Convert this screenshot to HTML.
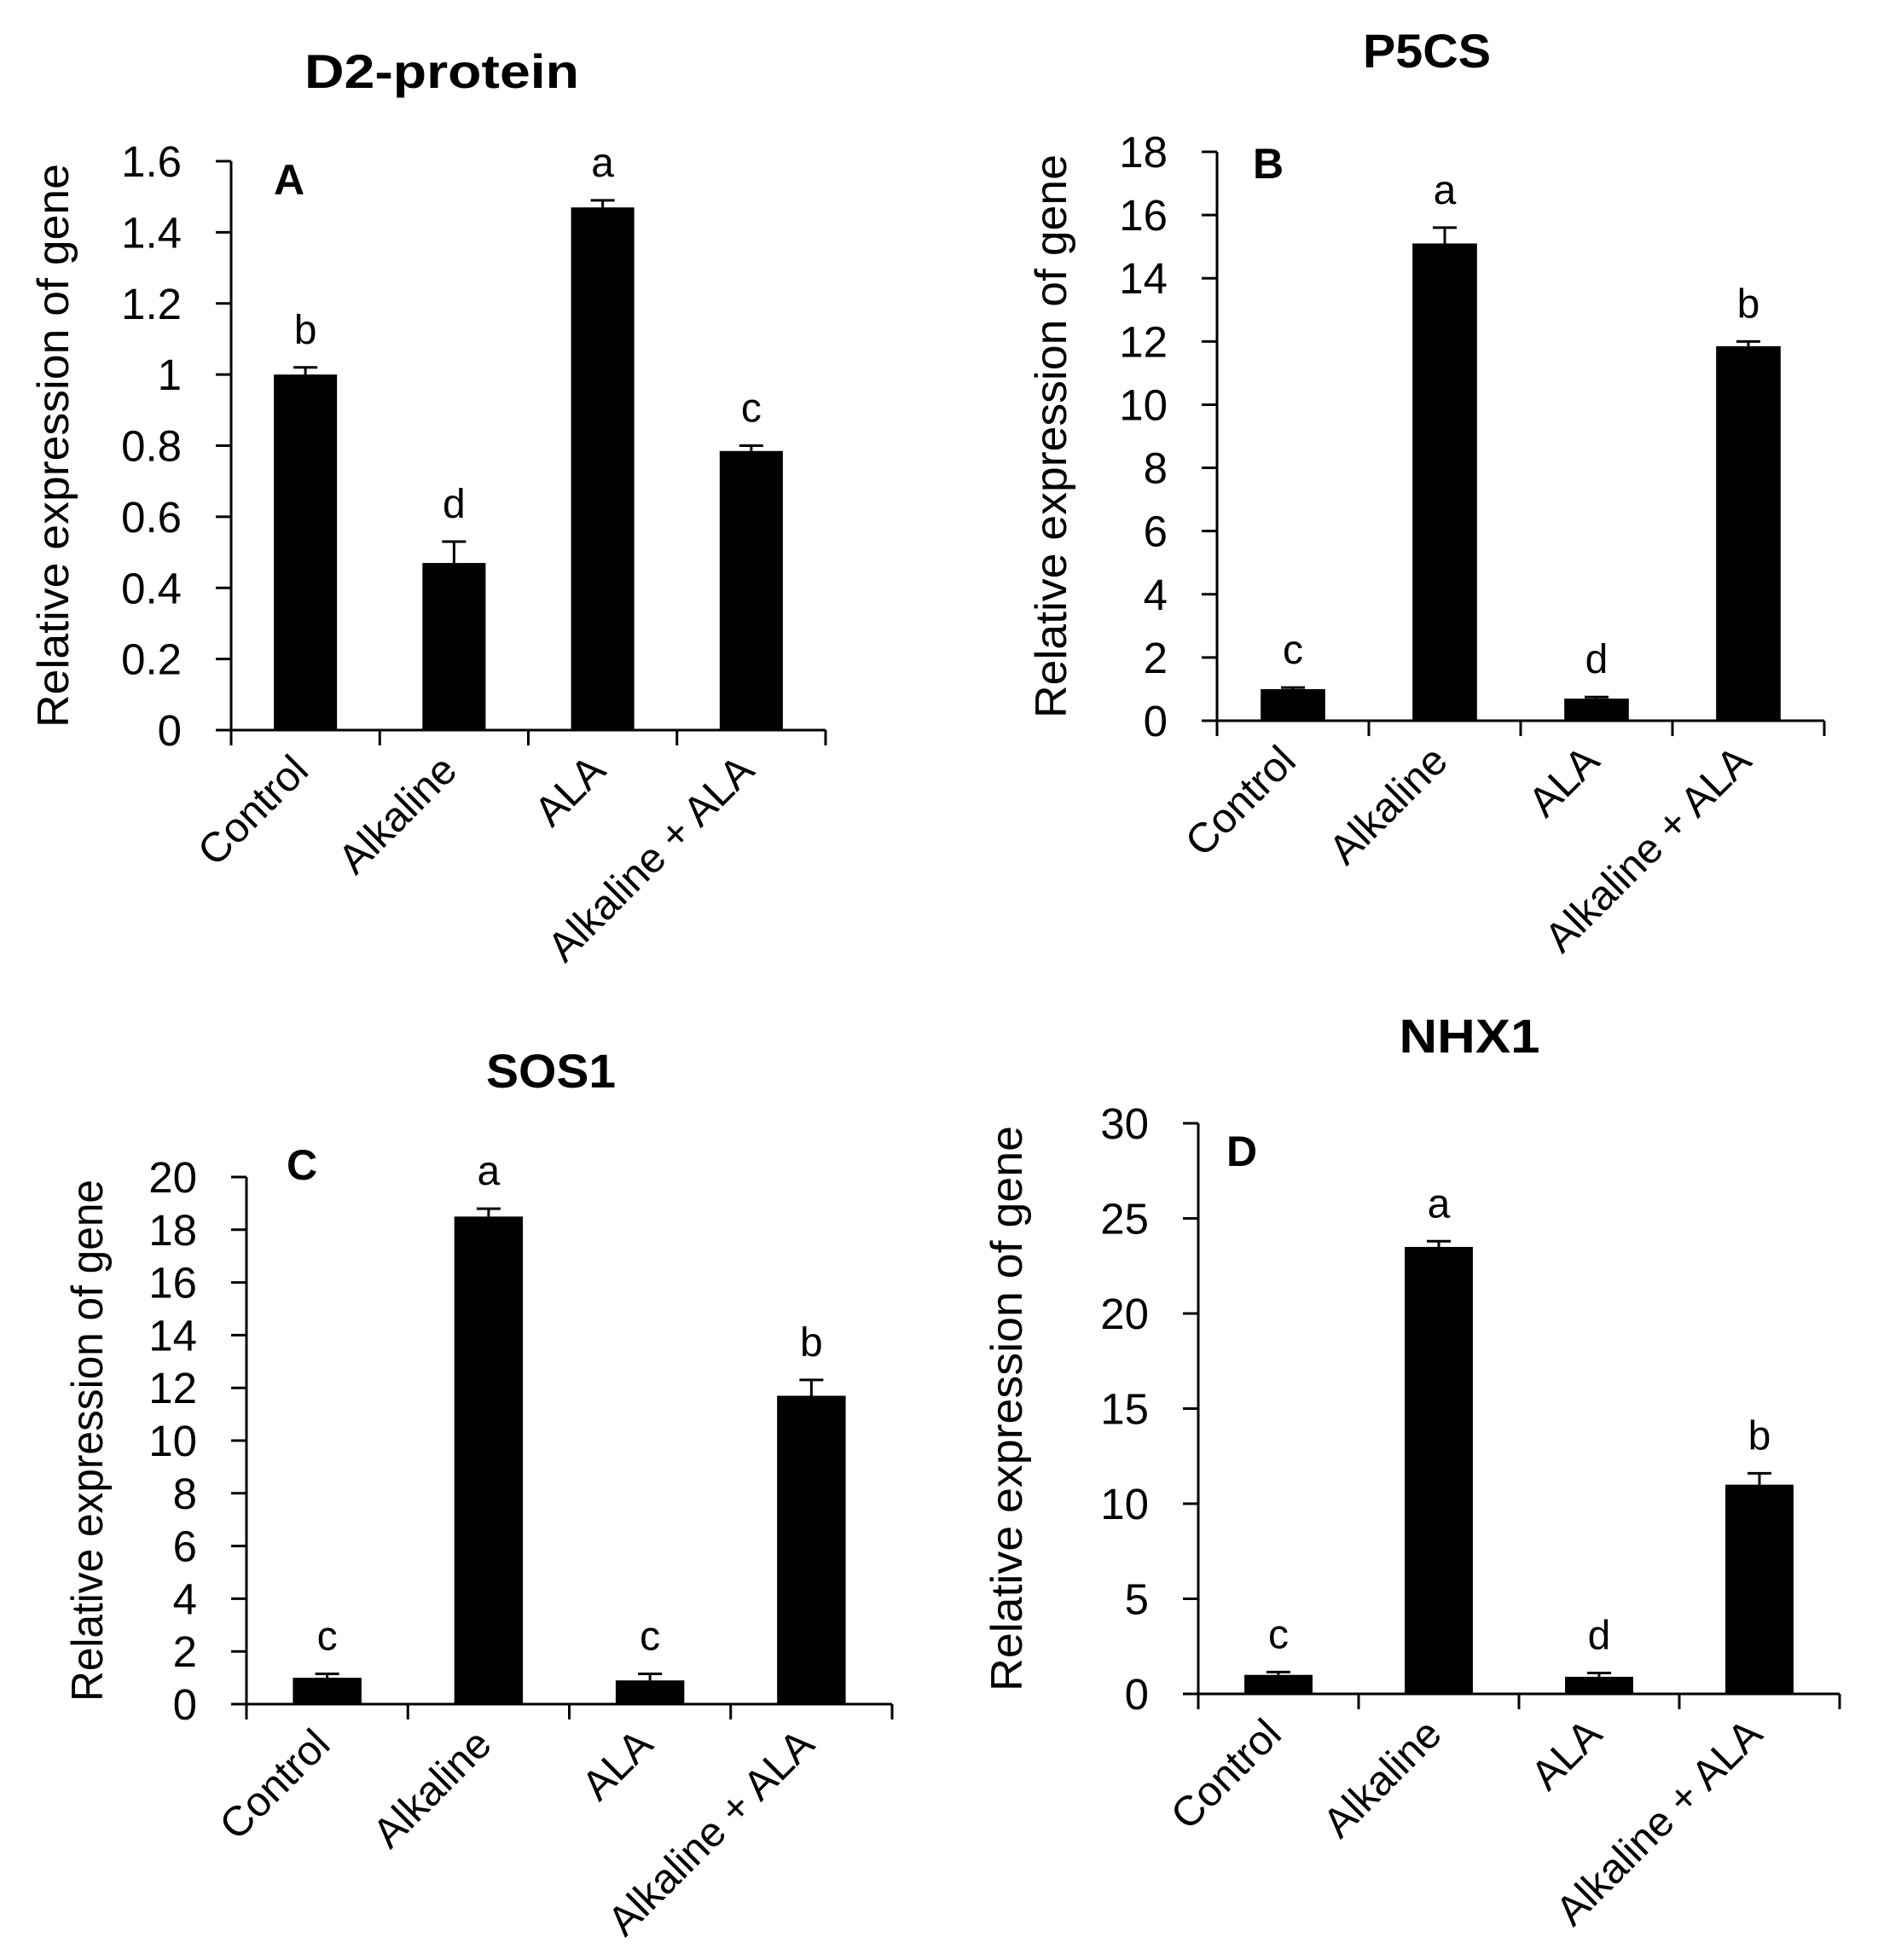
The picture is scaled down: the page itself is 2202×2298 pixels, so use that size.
<!DOCTYPE html>
<html><head><meta charset="utf-8"><style>
html,body{margin:0;padding:0;background:#fff;}
svg{display:block;font-family:"Liberation Sans",sans-serif;}
</style></head><body>
<svg id="fig" width="2202" height="2298" viewBox="0 0 2202 2298"></svg>
<script>
const categories = ["Control", "Alkaline", "ALA", "Alkaline + ALA"];
const d2Values = [1.0, 0.47, 1.47, 0.785];
const d2Errors = [0.02, 0.06, 0.02, 0.015];
const d2Letters = ["b", "d", "a", "c"];
const d2Ticks = ["0", "0.2", "0.4", "0.6", "0.8", "1", "1.2", "1.4", "1.6"];
const p5Values = [1.0, 15.1, 0.7, 11.85];
const p5Errors = [0.05, 0.5, 0.05, 0.15];
const p5Letters = ["c", "a", "d", "b"];
const p5Ticks = ["0", "2", "4", "6", "8", "10", "12", "14", "16", "18"];
const sosValues = [1.0, 18.5, 0.9, 11.7];
const sosErrors = [0.15, 0.3, 0.25, 0.6];
const sosLetters = ["c", "a", "c", "b"];
const sosTicks = ["0", "2", "4", "6", "8", "10", "12", "14", "16", "18", "20"];
const nhxValues = [1.0, 23.5, 0.9, 11.0];
const nhxErrors = [0.15, 0.3, 0.2, 0.6];
const nhxLetters = ["c", "a", "d", "b"];
const nhxTicks = ["0", "5", "10", "15", "20", "25", "30"];

const NS = "http://www.w3.org/2000/svg";
const svg = document.getElementById("fig");
function mk(tag, attrs, parent, text) {
  const e = document.createElementNS(NS, tag);
  for (const k in attrs) e.setAttribute(k, attrs[k]);
  if (text !== undefined) e.textContent = text;
  parent.appendChild(e);
  return e;
}

function panel(cfg, values, errors, letters, ticks) {
  const g = mk("g", {}, svg);
  
  
  const maxV = parseFloat(ticks[ticks.length - 1]);
  const y = v => cfg.y0 - (v / maxV) * (cfg.y0 - cfg.yTop);
  const band = (cfg.xEnd - cfg.x0) / categories.length;
  const cx = i => cfg.x0 + band * (i + 0.5);
  const bw = band * 0.425;

  const t = mk("text", {x: cfg.titleX, y: cfg.titleY, "text-anchor": "middle", "font-size": 56, "font-weight": "bold", textLength: cfg.titleLen, lengthAdjust: "spacingAndGlyphs"}, g, cfg.title);
  
  

  const pl = mk("text", {x: cfg.letX, y: cfg.letY, "font-size": 50, "font-weight": "bold"}, g, cfg.letter);
  
  

  const yt = mk("text", {transform: `translate(${cfg.ytX},${(cfg.y0 + cfg.yTop) / 2}) rotate(-90)`, "text-anchor": "middle", "font-size": 52, textLength: cfg.y0 - cfg.yTop - 6, lengthAdjust: "spacingAndGlyphs"}, g, "Relative expression of gene");
  
  

  values.forEach((v, i) => {
    const r = mk("rect", {x: cx(i) - bw / 2, y: y(v), width: bw, height: cfg.y0 - y(v), fill: "#000"}, g);
    
    
    const top = y(v + errors[i]);
    const eb = mk("path", {d: `M${cx(i)} ${y(v)}V${top}M${cx(i) - 14} ${top}H${cx(i) + 14}`, stroke: "#000", "stroke-width": 3, fill: "none"}, g);
    
    
    const sl = mk("text", {x: cx(i), y: top - 28, "text-anchor": "middle", "font-size": 48}, g, letters[i]);
    
    
    const xl = mk("text", {transform: `translate(${cx(i) + 6},${cfg.y0 + 50}) rotate(-45)`, "text-anchor": "end", "font-size": 49}, g, categories[i]);
    
    
  });

  const ya = mk("path", {d: `M${cfg.x0} ${cfg.yTop}V${cfg.y0}`, stroke: "#000", "stroke-width": 3}, g);
  
  
  const xa = mk("path", {d: `M${cfg.x0 - 18} ${cfg.y0}H${cfg.xEnd}`, stroke: "#000", "stroke-width": 3}, g);
  
  
  for (let i = 0; i <= categories.length; i++) {
    const xx = cfg.x0 + band * i;
    const tk = mk("path", {d: `M${xx} ${cfg.y0}V${cfg.y0 + 18}`, stroke: "#000", "stroke-width": 3}, g);
    
    
  }
  ticks.forEach(tl => {
    const yy = y(parseFloat(tl));
    const tk = mk("path", {d: `M${cfg.x0 - 18} ${yy}H${cfg.x0}`, stroke: "#000", "stroke-width": 3}, g);
    
    
    const lb = mk("text", {x: cfg.x0 - 58, y: yy + 18, "text-anchor": "end", "font-size": 51}, g, tl);
    
    
  });
}

panel({id: "d2-protein", title: "D2-protein", titleX: 518, titleY: 103, titleLen: 322, letter: "A", letX: 321, letY: 228,
  x0: 271, xEnd: 968, y0: 856, yTop: 189, ytX: 80}, d2Values, d2Errors, d2Letters, d2Ticks);
panel({id: "p5cs", title: "P5CS", titleX: 1673, titleY: 79, titleLen: 150, letter: "B", letX: 1469, letY: 209,
  x0: 1427, xEnd: 2139, y0: 845, yTop: 178, ytX: 1250}, p5Values, p5Errors, p5Letters, p5Ticks);
panel({id: "sos1", title: "SOS1", titleX: 646, titleY: 1275, titleLen: 152, letter: "C", letX: 336, letY: 1383,
  x0: 289, xEnd: 1046, y0: 1998, yTop: 1380, ytX: 120}, sosValues, sosErrors, sosLetters, sosTicks);
panel({id: "nhx1", title: "NHX1", titleX: 1723, titleY: 1234, titleLen: 165, letter: "D", letX: 1438, letY: 1367,
  x0: 1405, xEnd: 2157, y0: 1986, yTop: 1317, ytX: 1198}, nhxValues, nhxErrors, nhxLetters, nhxTicks);
</script>
</body></html>
